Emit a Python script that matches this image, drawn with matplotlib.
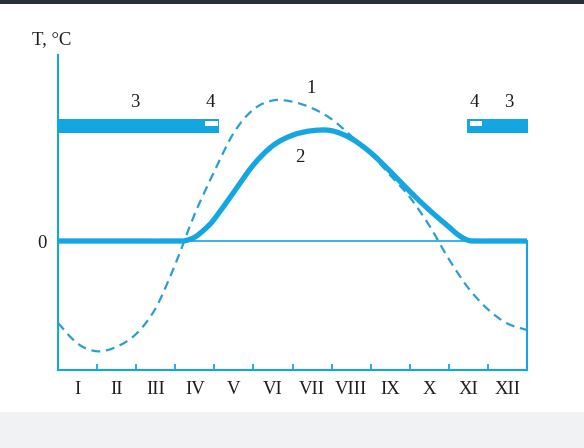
import matplotlib
matplotlib.use("Agg")
import matplotlib.pyplot as plt
from matplotlib.patches import Rectangle, PathPatch
from matplotlib.path import Path

plt.rcParams['font.family'] = ['Liberation Serif', 'DejaVu Serif']

# ---- data ----
months = ["I", "II", "III", "IV", "V", "VI", "VII", "VIII", "IX", "X", "XI", "XII"]

# curve 1: air temperature (dashed)
air_x = [0, 0.5, 1.0, 1.5, 2.0, 2.5, 3.0, 3.5, 4.0, 4.5, 5.0, 5.5, 6.0, 6.5,
         7.0, 7.5, 8.0, 8.5, 9.0, 9.5, 10.0, 10.5, 11.0, 11.5, 12.0]
air_t = [-12.7, -15.9, -17.1, -16.4, -14.4, -10.4, -3.6, 4.2, 10.8, 16.8, 20.4,
         21.8, 21.6, 20.6, 18.9, 16.3, 13.5, 10.2, 6.8, 2.4, -2.8, -7.3, -10.6,
         -12.8, -13.8]

# curve 2: water temperature (thick solid)
water_x = [0, 1.0, 2.0, 3.0, 3.25, 3.5, 3.75, 4.0, 4.5, 5.0, 5.5, 6.0, 6.5, 7.0,
           7.5, 8.0, 8.5, 9.0, 9.5, 10.0, 10.25, 10.5, 10.75, 11.0, 12.0]
water_t = [0, 0, 0, 0, 0.05, 0.6, 1.8, 3.4, 7.6, 11.8, 14.8, 16.4, 17.1, 17.1,
           15.9, 13.7, 10.8, 7.7, 4.8, 2.2, 0.9, 0.1, 0, 0, 0]

# bars: 3 and 4 periods
bar_starts = [0.0, 10.46]
bar_ends = [4.12, 12.03]
mark_starts = [3.77, 10.54]
mark_ends = [4.09, 10.85]
bar_bottom, bar_top = 16.74, 18.84
mark_bottom, mark_top = 17.8, 18.6

bar_labels = [("3", 1.97), ("4", 3.89), ("4", 10.66), ("3", 11.53)]

blue = '#14a6e3'
dash_blue = '#2a9fcf'
txt = '#1e1e1e'


def smooth_path(xs, ys):
    """Catmull-Rom spline through the given points, as cubic Bezier segments."""
    pts = list(zip(xs, ys))
    verts = [pts[0]]
    codes = [Path.MOVETO]
    n = len(pts)
    for i in range(n - 1):
        p0 = pts[i - 1] if i > 0 else pts[i]
        p1 = pts[i]
        p2 = pts[i + 1]
        p3 = pts[i + 2] if i + 2 < n else pts[i + 1]
        c1 = (p1[0] + (p2[0] - p0[0]) / 6.0, p1[1] + (p2[1] - p0[1]) / 6.0)
        c2 = (p2[0] - (p3[0] - p1[0]) / 6.0, p2[1] - (p3[1] - p1[1]) / 6.0)
        verts += [c1, c2, p2]
        codes += [Path.CURVE4] * 3
    return Path(verts, codes)


fig = plt.figure(figsize=(5.84, 4.48), dpi=100)
fig.patch.set_facecolor('white')
# screenshot surroundings
fig.patches.append(Rectangle((0, 0), 1, 36/448, transform=fig.transFigure,
                             facecolor='#f1f2f4', edgecolor='none', zorder=0))
fig.patches.append(Rectangle((0, 1-4/448), 1, 4/448, transform=fig.transFigure,
                             facecolor='#2a2f3a', edgecolor='none', zorder=0))

ax = fig.add_axes([58/584, 1-370/448, (527-58)/584, (370-55)/448])
ax.set_facecolor('none')
ax.set_xlim(0, 12)
ax.set_ylim(-20, 28.84)

ax.spines['top'].set_visible(False)
for s in ['left', 'bottom', 'right']:
    ax.spines[s].set_color(blue)
    ax.spines[s].set_linewidth(1.5)
ax.spines['right'].set_bounds(-20, 0)

# zero line
ax.axhline(0, color=blue, lw=1.2, zorder=2)

# curves
ax.add_patch(PathPatch(smooth_path(air_x, air_t), fill=False, edgecolor=dash_blue,
                       lw=1.6, linestyle=(0, (4, 2.6)), zorder=3))
ax.add_patch(PathPatch(smooth_path(water_x, water_t), fill=False, edgecolor=blue,
                       lw=3.8, capstyle='butt', joinstyle='round', zorder=4))

# bars
for a, b in zip(bar_starts, bar_ends):
    ax.add_patch(Rectangle((a, bar_bottom), b - a, bar_top - bar_bottom,
                           facecolor=blue, edgecolor='none', clip_on=False, zorder=3))
for a, b in zip(mark_starts, mark_ends):
    ax.add_patch(Rectangle((a, mark_bottom), b - a, mark_top - mark_bottom,
                           facecolor='white', edgecolor='none', clip_on=False, zorder=4))
for lab, x in bar_labels:
    ax.text(x, 21.4, lab, ha='center', va='center', fontsize=13.5, color=txt)

ax.text(6.47, 23.7, "1", ha='center', va='center', fontsize=13.5, color=txt)
ax.text(6.19, 13.0, "2", ha='center', va='center', fontsize=13.5, color=txt)

# x ticks
ax.set_xticks(range(1, 12))
ax.set_xticklabels([])
ax.tick_params(axis='x', which='major', direction='in', length=4, width=1.3,
               color=blue)
ax.set_xticks([i + 0.5 for i in range(12)], minor=True)
ax.set_xticklabels(months, minor=True, fontsize=13.5, color=txt)
ax.tick_params(axis='x', which='minor', length=0, pad=8)

# y ticks
ax.set_yticks([0])
ax.set_yticklabels(["0"], fontsize=13.5, color=txt)
ax.tick_params(axis='y', length=0, pad=8)

fig.text(32/584, 1-40/448, "T, °C", ha='left', va='center', fontsize=13.5, color=txt)

fig.savefig("out.png", dpi=100)
